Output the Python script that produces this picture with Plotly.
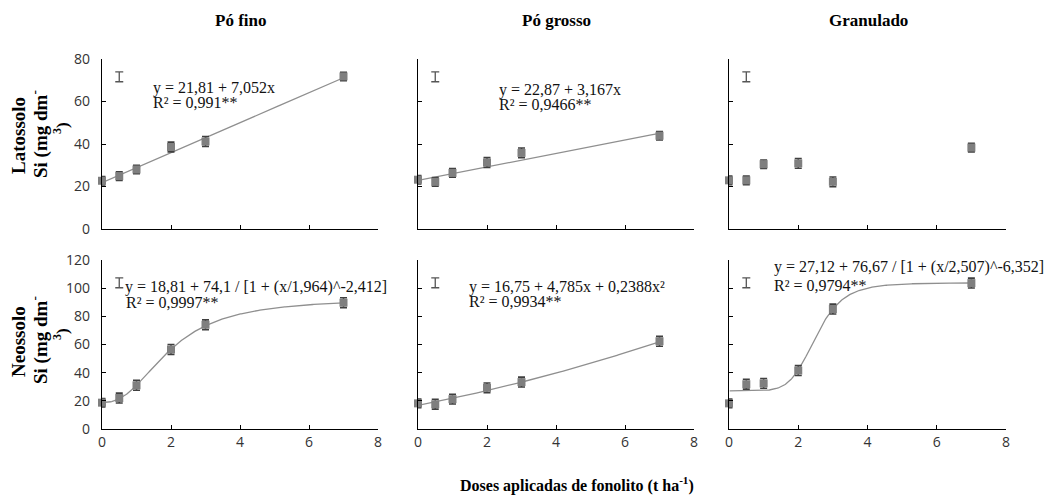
import numpy as np
import plotly.graph_objects as go

# ---------------- data ----------------
doses = [0, 0.5, 1, 2, 3, 7]
col_titles = ["Pó fino", "Pó grosso", "Granulado"]
row_soils = ["Latossolo", "Neossolo"]

# Latossolo (top row)
lat_fino = [22.7, 24.9, 28.0, 38.6, 41.2, 71.8]
lat_grosso = [23.2, 22.2, 26.4, 31.3, 35.8, 43.9]
lat_gran = [22.9, 22.9, 30.5, 30.9, 22.2, 38.3]
lat_err = [2.0, 2.0, 2.0, 2.3, 2.3, 2.0]

# Neossolo (bottom row)
neo_fino = [18.7, 22.0, 31.0, 56.5, 74.0, 89.7]
neo_grosso = [18.2, 17.6, 21.2, 29.2, 33.3, 62.3]
neo_gran = [18.2, 31.8, 32.4, 41.5, 85.2, 103.6]
neo_err = [3.0, 3.5, 3.5, 3.5, 3.5, 3.5]

# reference error bar (the isolated "I")
ref_x = 0.5
lat_ref_y, lat_ref_err = 71.6, 2.3
neo_ref_y, neo_ref_err = 103.8, 3.5

# fitted equations shown in the chart
lin_fino = (21.81, 7.052)
lin_grosso = (22.87, 3.167)
logi_fino = (18.81, 74.1, 1.964, -2.412)
quad_grosso = (16.75, 4.785, 0.2388)
logi_gran = (27.12, 76.67, 2.507, -6.352)

eq_texts = {
    "lat_fino": ["y = 21,81 + 7,052x", "R² = 0,991**"],
    "lat_grosso": ["y = 22,87 + 3,167x", "R² = 0,9466**"],
    "neo_fino": ["y = 18,81 + 74,1 / [1 + (x/1,964)^-2,412]", "R² = 0,9997**"],
    "neo_grosso": ["y = 16,75 + 4,785x + 0,2388x²", "R² = 0,9934**"],
    "neo_gran": ["y = 27,12 + 76,67 / [1 + (x/2,507)^-6,352]", "R² = 0,9794**"],
}

x_ticks = [0, 2, 4, 6, 8]
lat_yticks = [0, 20, 40, 60, 80]
neo_yticks = [0, 20, 40, 60, 80, 100, 120]

# ---------------- layout geometry ----------------
W, H = 1045, 499
xdom = [(102, 378), (418, 694), (729, 1006)]
ydom = [(59, 229), (260, 429)]


def px_x(a):
    return a / W


def px_y(a):
    return 1 - a / H


MARK = "#7f7f7f"
ERRC = "#3f3f3f"
LINEC = "#8f8f8f"
SERIF = "Liberation Serif, Times New Roman, serif"
SANS = "Open Sans, Segoe UI, sans-serif"

fig = go.Figure()

xs_fine = np.linspace(0, 7, 200)
xs_pos = np.linspace(0.02, 7, 300)


def logistic(p, x):
    a, b, c, d = p
    return a + b / (1 + (x / c) ** d)


panels = [
    (0, 0, lat_fino, lat_err, ("lin", lin_fino)),
    (0, 1, lat_grosso, lat_err, ("lin", lin_grosso)),
    (0, 2, lat_gran, lat_err, None),
    (1, 0, neo_fino, neo_err, ("logi", logi_fino)),
    (1, 1, neo_grosso, neo_err, ("quad", quad_grosso)),
    (1, 2, neo_gran, neo_err, ("logi", logi_gran)),
]

for row, col, ys, err, fit in panels:
    idx = row * 3 + col + 1
    xa = "x" if idx == 1 else f"x{idx}"
    ya = "y" if idx == 1 else f"y{idx}"
    if fit is not None:
        kind, p = fit
        if kind == "lin":
            fx = xs_fine
            fy = p[0] + p[1] * fx
        elif kind == "quad":
            fx = xs_fine
            fy = p[0] + p[1] * fx + p[2] * fx ** 2
        else:
            fx = xs_pos
            fy = logistic(p, fx)
        fig.add_trace(go.Scatter(x=fx, y=fy, mode="lines", xaxis=xa, yaxis=ya,
                                 line=dict(color=LINEC, width=1.3),
                                 showlegend=False, hoverinfo="skip", cliponaxis=False))
    fig.add_trace(go.Scatter(
        x=doses, y=ys, mode="markers", xaxis=xa, yaxis=ya,
        marker=dict(symbol="square", size=8, color=MARK),
        error_y=dict(type="data", array=err, color=ERRC, thickness=1.6, width=3.5),
        showlegend=False, cliponaxis=False))
    ry, re = (lat_ref_y, lat_ref_err) if row == 0 else (neo_ref_y, neo_ref_err)
    fig.add_trace(go.Scatter(
        x=[ref_x], y=[ry], mode="markers", xaxis=xa, yaxis=ya,
        marker=dict(size=1, color="rgba(0,0,0,0)"),
        error_y=dict(type="data", array=[re], color="#555555", thickness=1.3, width=4),
        showlegend=False, cliponaxis=False))

    xkey = "xaxis" if idx == 1 else f"xaxis{idx}"
    ykey = "yaxis" if idx == 1 else f"yaxis{idx}"
    x0, x1 = xdom[col]
    y0, y1 = ydom[row]
    fig.layout[xkey] = dict(
        domain=[px_x(x0), px_x(x1)], anchor=ya, range=[0, 8],
        tickvals=x_ticks, showticklabels=(row == 1), automargin=False,
        ticks="inside", ticklen=4, tickcolor="#000", tickwidth=1,
        showline=True, linecolor="#000", linewidth=1.2,
        showgrid=False, zeroline=False,
        tickfont=dict(family=SANS, size=14, color="#333333"))
    yt = lat_yticks if row == 0 else neo_yticks
    fig.layout[ykey] = dict(
        domain=[px_y(y1), px_y(y0)], anchor=xa, range=[0, yt[-1]],
        tickvals=yt, showticklabels=(col == 0), automargin=False,
        ticks="inside", ticklen=4, tickcolor="#000", tickwidth=1,
        showline=True, linecolor="#000", linewidth=1.2,
        showgrid=False, zeroline=False, ticklabelstandoff=8,
        tickfont=dict(family=SANS, size=14, color="#333333"))

annotations = []


def ann(x, y, text, size, xanchor="center", yanchor="middle", angle=0, color="#000"):
    annotations.append(dict(x=px_x(x), y=px_y(y), xref="paper", yref="paper",
                            xanchor=xanchor, yanchor=yanchor, textangle=angle,
                            text=text, showarrow=False, align="left",
                            font=dict(family=SERIF, size=size, color=color)))


# column titles
for cx, t in zip([240, 556, 868], col_titles):
    ann(cx, 20, f"<b>{t}</b>", 17)
# y titles
for cy, soil in zip([136, 342], row_soils):
    ann(18, cy, f"<b>{soil}</b>", 19, angle=-90)
    ann(39, cy - 2, "<b>Si (mg dm<sup>-</sup></b>", 19, angle=-90)
    ann(61, cy - 8, "<b><sup>3</sup>)</b>", 17, angle=-90)
# x title
ann(577, 484, "<b>Doses aplicadas de fonolito (t ha<sup>-1</sup>)</b>", 16)

# equations (line 1 and line 2 positions)
eq_pos = {
    "lat_fino": ((151, 88), (151, 103)),
    "lat_grosso": ((497, 90), (497, 104)),
    "neo_fino": ((123, 287), (124, 302)),
    "neo_grosso": ((467, 287), (467, 301)),
    "neo_gran": ((772, 267), (772, 285)),
}
for k, (p1, p2) in eq_pos.items():
    ann(p1[0], p1[1], eq_texts[k][0], 16, xanchor="left", color="#111")
    ann(p2[0], p2[1], eq_texts[k][1], 16, xanchor="left", color="#111")

fig.update_layout(width=W, height=H, margin=dict(l=0, r=0, t=0, b=0, pad=0),
                  plot_bgcolor="white", paper_bgcolor="white",
                  annotations=annotations, showlegend=False)

fig.write_html("out.html", config={"displayModeBar": False},
               post_script="document.body.style.margin='0';")
